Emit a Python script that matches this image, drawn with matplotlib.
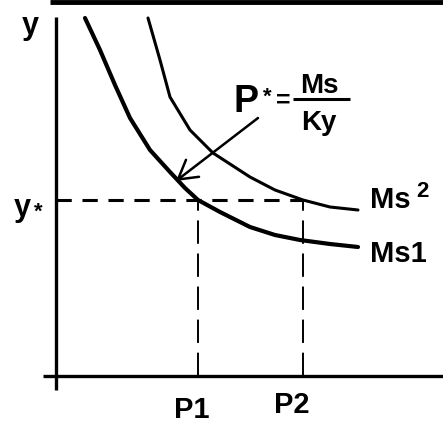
import matplotlib.pyplot as plt
import matplotlib
matplotlib.use("Agg")

# money supply curves (price P on x, output y on y)
ms1_p = [29, 44, 59, 74, 94, 114, 129, 142, 164, 194, 219, 244, 274, 302]
ms1_y = [358, 326, 291, 258, 226, 204, 188, 176, 164, 149, 141, 136, 132, 129]
ms2_p = [92, 104, 114, 134, 157, 194, 219, 247, 274, 302]
ms2_y = [358, 316, 279, 246, 223, 199, 186, 176, 169, 166]

y_star = 176
p1 = 142
p2 = 247

plt.rcParams['font.family'] = ['Liberation Sans', 'DejaVu Sans']
plt.rcParams['font.weight'] = 'bold'

fig = plt.figure(figsize=(4.43, 4.24), dpi=100)
ax = fig.add_axes([0, 0, 1, 1])
ax.set_xlim(-56, 387)
ax.set_ylim(-48, 376)
ax.axis('off')

# frame bar at the top and the two axes
ax.plot([-6, 387], [374, 374], color='black', lw=3.5, solid_capstyle='butt', clip_on=False)
ax.plot([0, 0], [-14, 359], color='black', lw=2.4, solid_capstyle='butt')
ax.plot([-13, 387], [0, 0], color='black', lw=2.4, solid_capstyle='butt')

# curves
ax.plot(ms1_p, ms1_y, color='black', lw=3.0, solid_capstyle='round')
ax.plot(ms2_p, ms2_y, color='black', lw=2.2, solid_capstyle='round')

# guide lines
ax.plot([0, p2], [y_star, y_star], color='black', lw=2.2, dashes=(5, 3.5))
ax.plot([p1, p1], [0, y_star], color='black', lw=1.4, dashes=(12, 5))
ax.plot([p2, p2], [0, y_star], color='black', lw=1.4, dashes=(12, 5))

# labels
ax.text(-26, 342, 'y', fontsize=22, ha='center', va='baseline')
ax.text(-34, 160, 'y', fontsize=22, ha='center', va='baseline')
ax.text(-18, 164, '*', fontsize=16, ha='center', va='center')
ax.text(p1 - 6, -42, 'P1', fontsize=21, ha='center', va='baseline')
ax.text(p2 - 11, -37, 'P2', fontsize=21, ha='center', va='baseline')
ax.text(314, 168, 'Ms', fontsize=21, ha='left', va='baseline')
ax.text(360, 179, '2', fontsize=16, ha='left', va='baseline')
ax.text(314, 114, 'Ms1', fontsize=21, ha='left', va='baseline')

# formula P* = Ms / Ky
ax.text(203, 264, 'P', fontsize=27, ha='right', va='baseline')
ax.text(211, 279, '*', fontsize=16, ha='center', va='center')
ax.text(227, 275, '=', fontsize=18, ha='center', va='center')
ax.plot([237, 294], [277, 277], color='black', lw=2.2, solid_capstyle='butt')
ax.text(263, 283, 'Ms', fontsize=20, ha='center', va='baseline')
ax.text(263, 246, 'Ky', fontsize=20, ha='center', va='baseline')

ax.annotate('', xy=(120, 195), xytext=(202, 258),
            arrowprops=dict(arrowstyle='->,head_length=0.6,head_width=0.35',
                            mutation_scale=22, color='black', lw=1.8,
                            shrinkA=0, shrinkB=0))

fig.savefig('out.png', dpi=100, facecolor='white')
